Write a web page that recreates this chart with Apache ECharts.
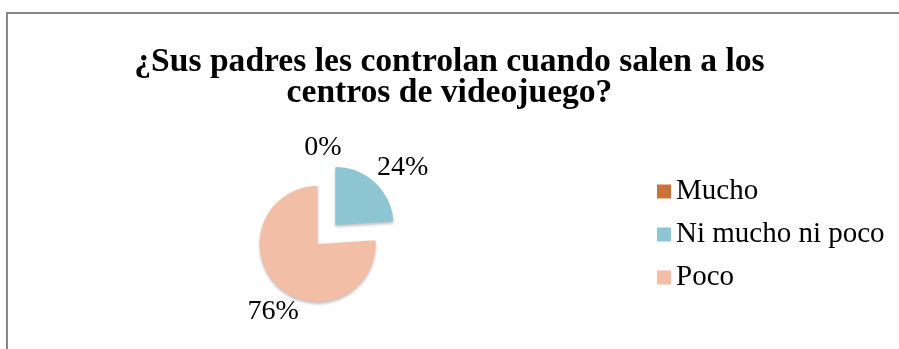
<!DOCTYPE html>
<html>
<head>
<meta charset="utf-8">
<script src="https://cdn.jsdelivr.net/npm/echarts@6/dist/echarts.min.js"></script>
<style>
  html, body { margin: 0; padding: 0; background: #ffffff; }
  #chart { width: 899px; height: 349px; }
</style>
</head>
<body>
<div id="chart"></div>
<script>
// Survey answers (percent of respondents)
const categories = ['Mucho', 'Ni mucho ni poco', 'Poco'];
const values = [0, 24, 76];
const titleLines = ['¿Sus padres les controlan cuando salen a los', 'centros de videojuego?'];

// Slice colours and label nudges, one per category
const sliceColors = ['#c8733a', '#8ec5d3', '#f2bea6'];
const labelNudge = [[20, -16], [-3, -15], [26, 25]];

const serif = '"Liberation Serif", "Times New Roman", serif';

const chart = echarts.init(document.getElementById('chart'), null, { renderer: 'canvas' });

chart.setOption({
  backgroundColor: '#ffffff',
  animation: false,
  title: {
    text: titleLines.join('\n'),
    left: 'center',
    top: 47,
    padding: 0,
    textStyle: {
      fontFamily: serif,
      fontSize: 33.6,
      fontWeight: 'bold',
      color: '#000000',
      lineHeight: 31
    }
  },
  legend: {
    orient: 'vertical',
    left: 657,
    top: 177,
    padding: 0,
    itemWidth: 14,
    itemHeight: 14,
    itemGap: 14,
    icon: 'rect',
    selectedMode: false,
    textStyle: {
      fontFamily: serif,
      fontSize: 29,
      color: '#000000',
      lineHeight: 29
    },
    data: categories
  },
  graphic: [{
    type: 'rect',
    shape: { x: 7, y: 13, width: 1000, height: 500 },
    style: { fill: 'none', stroke: '#878787', lineWidth: 2 },
    silent: true,
    z: -1
  }],
  series: [{
    type: 'pie',
    center: [326.5, 234.5],
    radius: 58,
    startAngle: 90,
    clockwise: true,
    avoidLabelOverlap: false,
    selectedMode: 'multiple',
    selectedOffset: 13,
    emphasis: { disabled: true },
    itemStyle: {
      shadowColor: 'rgba(0,0,0,0.25)',
      shadowBlur: 3,
      shadowOffsetY: 2
    },
    label: {
      show: true,
      position: 'outside',
      formatter: '{c}%',
      fontFamily: serif,
      fontSize: 28,
      color: '#000000'
    },
    labelLine: { show: false, length: 0, length2: 0 },
    labelLayout: function (params) {
      const n = labelNudge[params.dataIndex];
      return { dx: n[0], dy: n[1] };
    },
    data: categories.map((name, i) => ({
      name: name,
      value: values[i],
      selected: true,
      itemStyle: { color: sliceColors[i] },
      select: { itemStyle: { color: sliceColors[i] } }
    }))
  }]
});
</script>
</body>
</html>
